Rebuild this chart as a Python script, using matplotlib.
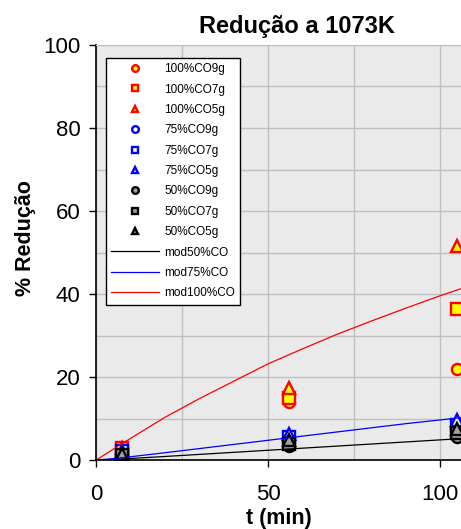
import matplotlib
matplotlib.use('Agg')
import matplotlib.pyplot as plt

plt.rcParams['font.family'] = ['Liberation Sans', 'DejaVu Sans']

# experimental times (min)
t_exp = [7.6, 56, 105]

# % reduction
r100_9g = [3.0, 14.0, 22.0]
r100_7g = [3.0, 15.0, 36.5]
r100_5g = [3.0, 17.5, 51.5]
r75_9g = [2.2, 5.0, 8.0]
r75_7g = [2.2, 5.5, 8.5]
r75_5g = [2.2, 6.3, 9.8]
r50_9g = [1.2, 3.5, 5.5]
r50_7g = [1.3, 4.0, 6.5]
r50_5g = [1.5, 4.8, 7.5]

# model curves
t_mod = [0, 7.6, 20, 30, 40, 50, 60, 70, 80, 90, 100, 110]
mod50 = [0, 0.3, 0.9, 1.4, 1.9, 2.4, 2.9, 3.4, 3.9, 4.4, 4.9, 5.4]
mod75 = [0, 0.6, 1.8, 2.8, 3.8, 4.8, 5.8, 6.8, 7.8, 8.8, 9.7, 10.6]
mod100 = [0, 4.0, 10.3, 14.8, 19.0, 23.2, 26.8, 30.3, 33.5, 36.6, 39.6, 42.4]

fig = plt.figure(figsize=(4.61, 5.29), dpi=100)
ax = fig.add_axes([0.208, 0.130, 0.792, 0.785])
ax.set_facecolor('#eaeaea')

ms = 8
mew = 1.7
ax.plot(t_exp, r100_9g, 'o', ls='none', mec='red', mfc='yellow', ms=ms, mew=mew, label='100%CO9g')
ax.plot(t_exp, r100_7g, 's', ls='none', mec='red', mfc='yellow', ms=ms, mew=mew, label='100%CO7g')
ax.plot(t_exp, r100_5g, '^', ls='none', mec='red', mfc='yellow', ms=ms, mew=mew, label='100%CO5g')
ax.plot(t_exp, r75_9g, 'o', ls='none', mec='blue', mfc='white', ms=ms, mew=mew, label='75%CO9g')
ax.plot(t_exp, r75_7g, 's', ls='none', mec='blue', mfc='white', ms=ms, mew=mew, label='75%CO7g')
ax.plot(t_exp, r75_5g, '^', ls='none', mec='blue', mfc='white', ms=ms, mew=mew, label='75%CO5g')
ax.plot(t_exp, r50_9g, 'o', ls='none', mec='black', mfc='#a0a0a0', ms=ms, mew=mew, label='50%CO9g')
ax.plot(t_exp, r50_7g, 's', ls='none', mec='black', mfc='#a0a0a0', ms=ms, mew=mew, label='50%CO7g')
ax.plot(t_exp, r50_5g, '^', ls='none', mec='black', mfc='#a0a0a0', ms=ms, mew=mew, label='50%CO5g')
ax.plot(t_mod, mod50, color='black', lw=0.9, label='mod50%CO')
ax.plot(t_mod, mod75, color='blue', lw=0.9, label='mod75%CO')
ax.plot(t_mod, mod100, color='red', lw=0.9, label='mod100%CO')

ax.set_xlim(0, 106.1)
ax.set_ylim(0, 100)
ax.set_xticks([0, 50, 100])
ax.set_yticks([0, 20, 40, 60, 80, 100])
ax.set_xticks([25, 75], minor=True)
ax.set_yticks(range(10, 100, 20), minor=True)
ax.tick_params(which='minor', length=0)
ax.tick_params(which='major', direction='out', length=5, width=1, labelsize=16)
ax.tick_params(axis='x', pad=12)
ax.tick_params(axis='y', pad=6)
ax.grid(True, which='both', color='#c0c0c0', lw=1)
ax.set_axisbelow(True)

ax.spines['right'].set_visible(False)
ax.spines['top'].set_color('#c0c0c0')
ax.spines['left'].set_linewidth(1.2)
ax.spines['bottom'].set_linewidth(1.2)

fig.text(297 / 461, 1 - 27 / 529, 'Redução a 1073K', fontsize=17, fontweight='bold',
         ha='center', va='center')
ax.set_xlabel('t (min)', fontsize=15.5, fontweight='bold', labelpad=2)
ax.set_ylabel('% Redução', fontsize=15.5, fontweight='bold')
ax.yaxis.set_label_coords(-0.165, 0.535)

leg = ax.legend(loc='upper left', bbox_to_anchor=(0.027, 0.969), fontsize=8.5,
                markerscale=0.6, handlelength=4.1, handletextpad=0.4,
                labelspacing=0.71, borderpad=0.45, fancybox=False,
                framealpha=1, edgecolor='black', borderaxespad=0)
leg.get_frame().set_linewidth(1)

fig.savefig('out.png', dpi=100)
